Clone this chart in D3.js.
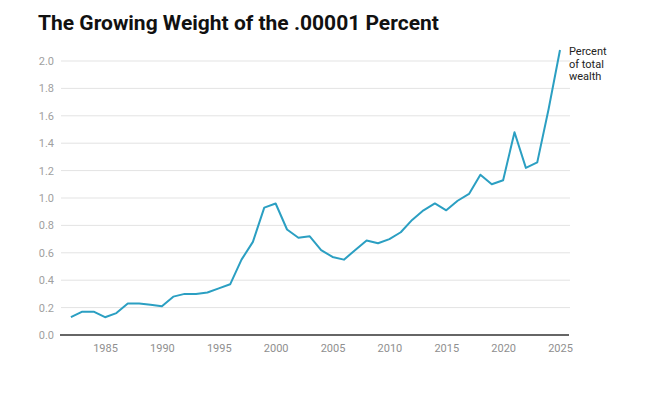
<!DOCTYPE html>
<html>
<head>
<meta charset="utf-8">
<script src="https://cdn.jsdelivr.net/npm/d3@7"></script>
<style>
  html, body { margin: 0; padding: 0; background: #fff; }
  svg { display: block; font-family: Roboto, "Noto Sans", sans-serif; }
</style>
</head>
<body>
<svg id="chart" width="655" height="400"></svg>
<script>
const years = d3.range(1982, 2026);
const shares = [0.13, 0.17, 0.17, 0.13, 0.16, 0.23, 0.23, 0.22, 0.21, 0.28,
  0.30, 0.30, 0.31, 0.34, 0.37, 0.55, 0.68, 0.93, 0.96, 0.77,
  0.71, 0.72, 0.62, 0.57, 0.55, 0.62, 0.69, 0.67, 0.70, 0.75,
  0.84, 0.91, 0.96, 0.91, 0.98, 1.03, 1.17, 1.10, 1.13, 1.48,
  1.22, 1.26, 1.65, 2.08];
const yTicks = [0, 0.2, 0.4, 0.6, 0.8, 1.0, 1.2, 1.4, 1.6, 1.8, 2.0];
const xTicks = [1985, 1990, 1995, 2000, 2005, 2010, 2015, 2020, 2025];
const title = "The Growing Weight of the .00001 Percent";
const labelLines = ["Percent", "of total", "wealth"];

const data = years.map((y, i) => ({ year: y, value: shares[i] }));

const svg = d3.select("#chart");
const x = d3.scaleLinear().domain([1982, 2025]).range([70.9, 560]);
const y = d3.scaleLinear().domain([0, 2]).range([335, 61]);

svg.append("text")
  .attr("x", 38).attr("y", 30)
  .attr("font-size", 21).attr("font-weight", 700)
  .attr("fill", "#111")
  .text(title);

// gridlines
svg.append("g").selectAll("line")
  .data(yTicks.filter(d => d > 0))
  .join("line")
  .attr("x1", 61).attr("x2", 570)
  .attr("y1", d => y(d)).attr("y2", d => y(d))
  .attr("stroke", "#e3e3e3").attr("stroke-width", 1);

// y axis labels
const yAxis = d3.axisLeft(y).tickValues(yTicks).tickFormat(d3.format(".1f")).tickSize(0).tickPadding(0);
svg.append("g").attr("transform", "translate(54,0)").call(yAxis)
  .call(g => g.select(".domain").remove())
  .call(g => g.selectAll("text").attr("fill", "#a0a0a0").attr("font-size", 11)
    .attr("font-family", "Roboto, sans-serif"));

// x axis
const xAxis = d3.axisBottom(x).tickValues(xTicks).tickFormat(d3.format("d")).tickSize(0).tickPadding(9);
svg.append("g").attr("transform", `translate(0,${y(0)})`).call(xAxis)
  .call(g => g.select(".domain").remove())
  .call(g => g.selectAll("text").attr("fill", "#8f8f8f").attr("font-size", 11)
    .attr("font-family", "Roboto, sans-serif"));

svg.append("line")
  .attr("x1", 60).attr("x2", 569)
  .attr("y1", y(0)).attr("y2", y(0))
  .attr("stroke", "#333").attr("stroke-width", 1.5);

// line
svg.append("path")
  .datum(data)
  .attr("fill", "none")
  .attr("stroke", "#2b9fc2")
  .attr("stroke-width", 2)
  .attr("stroke-linejoin", "round")
  .attr("d", d3.line().x(d => x(d.year)).y(d => y(d.value)));

// annotation
const ann = svg.append("text").attr("x", 569).attr("y", 55)
  .attr("font-size", 11).attr("fill", "#222");
ann.selectAll("tspan").data(labelLines).join("tspan")
  .attr("x", 569).attr("dy", (d, i) => i === 0 ? 0 : 12.7)
  .text(d => d);
</script>
</body>
</html>
